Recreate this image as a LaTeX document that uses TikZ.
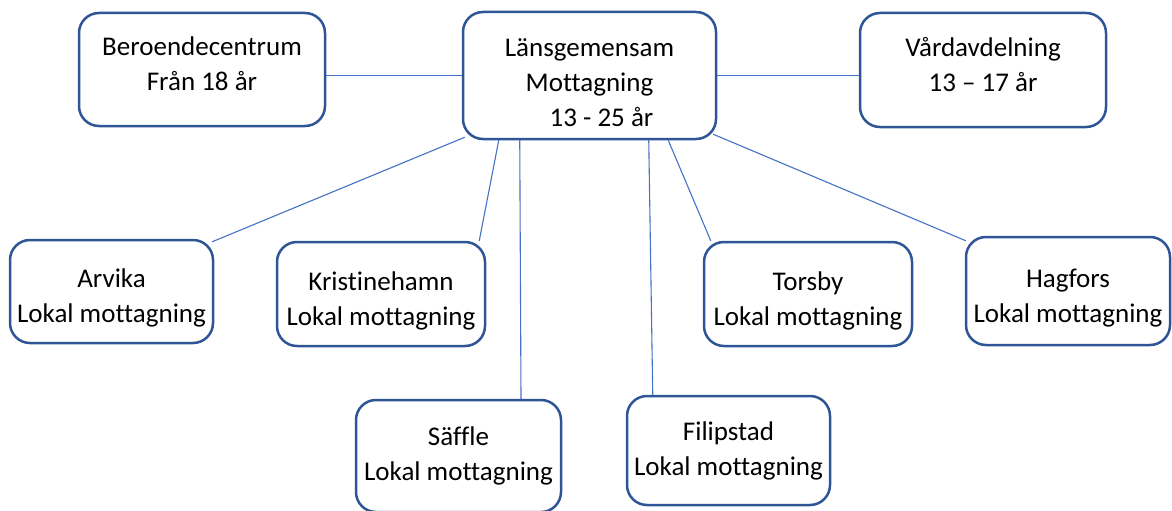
\documentclass[tikz,border=0pt]{standalone}
\usepackage{fontspec}
\setmainfont{Carlito}[Ligatures=CommonOff]
\definecolor{boxblue}{HTML}{2F5597}
\definecolor{lineblue}{HTML}{4472C4}
\newcommand{\padtop}{\rule{0pt}{32pt}}
\newcommand{\padbot}{\rule[-11pt]{0pt}{11pt}}

\begin{document}
\begin{tikzpicture}[x=1pt, y=-1pt,
    unit/.style={draw=boxblue, line width=2.5pt, rounded corners=20pt,
        fill=white, align=center, inner sep=2pt,
        font=\fontsize{27}{35}\selectfont},
    link/.style={draw=lineblue, line width=1.1pt}]
        \useasboundingbox (0,0) rectangle (1172,511);

        \node[unit, minimum width=246pt, minimum height=113pt] (Beroende) at (202,69.5) {
            Beroendecentrum\\Från 18 år\padbot
        };
        \node[unit, minimum width=253pt, minimum height=127pt] (Lans) at (589.5,75.5) {
            \padtop Länsgemensam\\Mottagning\\\hspace*{24pt}13 - 25 år
        };
        \node[unit, minimum width=246pt, minimum height=114pt] (Vard) at (983,70) {
            Vårdavdelning\\13 – 17 år\padbot
        };
        \node[unit, minimum width=203pt, minimum height=103pt] (Arvika) at (111.5,291.5) {
            \padtop Arvika\\Lokal mottagning
        };
        \node[unit, minimum width=208pt, minimum height=104pt] (Krist) at (381,294) {
            \padtop Kristinehamn\\Lokal mottagning
        };
        \node[unit, minimum width=208pt, minimum height=104pt] (Torsby) at (808,294) {
            \padtop Torsby\\Lokal mottagning
        };
        \node[unit, minimum width=204pt, minimum height=108pt] (Hagfors) at (1068,291) {
            \padtop Hagfors\\Lokal mottagning
        };
        \node[unit, minimum width=205pt, minimum height=112pt] (Saffle) at (458.5,456) {
            Säffle\\Lokal mottagning
        };
        \node[unit, minimum width=203pt, minimum height=109pt] (Filip) at (728.5,450.5) {
            Filipstad\\Lokal mottagning
        };

        \begin{scope}[on background layer/.try]
        \draw[link] (Lans.west -| Beroende.east) -- (Lans.west);
        \draw[link] (Lans.east) -- (Lans.east -| Vard.west);
        \draw[link] ([xshift=3pt,yshift=3pt]Lans.south west) -- ([xshift=-2pt,yshift=-3pt]Arvika.north east);
        \draw[link] ([xshift=37pt]Lans.south west) -- ([xshift=-7pt]Krist.north east);
        \draw[link] ([xshift=58pt]Lans.south west) -- ([xshift=62.5pt]Saffle.north);
        \draw[link] ([xshift=187pt]Lans.south west) -- ([xshift=27pt]Filip.north west);
        \draw[link] ([xshift=-49pt]Lans.south east) -- ([xshift=8pt]Torsby.north west);
        \draw[link] ([xshift=-4pt,yshift=6pt]Lans.south east) -- ([xshift=1pt,yshift=-5pt]Hagfors.north west);
        \end{scope}
\end{tikzpicture}
\end{document}
